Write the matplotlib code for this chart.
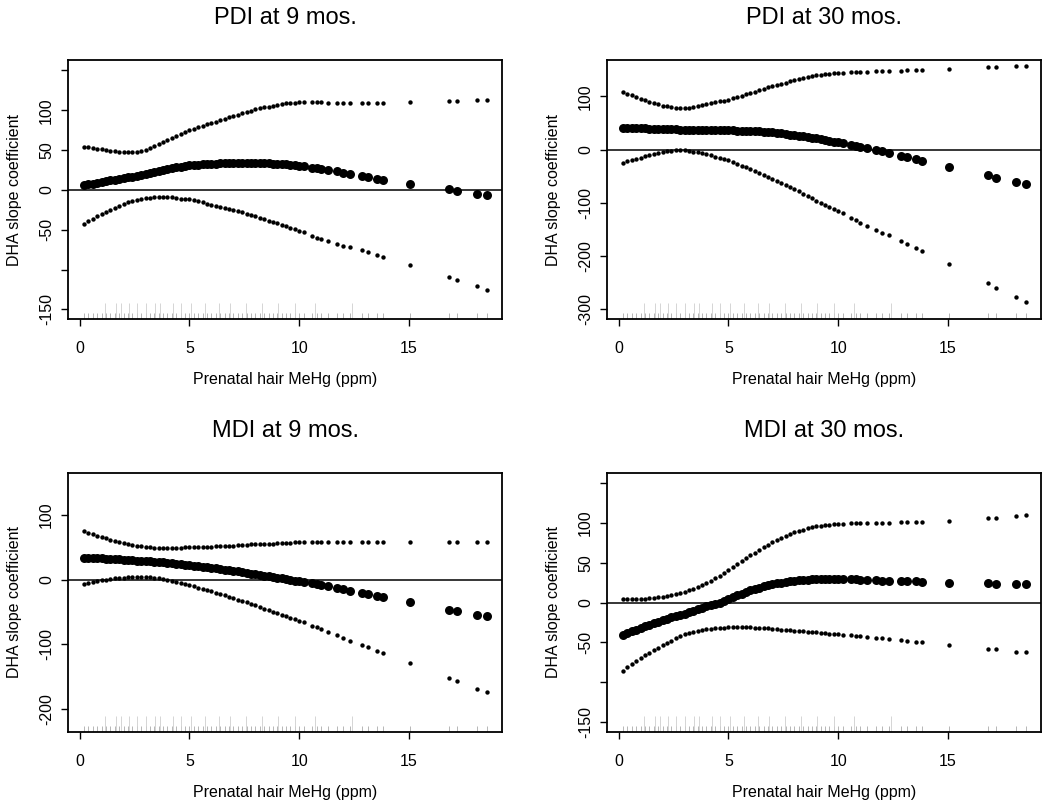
import matplotlib
matplotlib.use("Agg")
import matplotlib.pyplot as plt

plt.rcParams["font.family"] = ["Liberation Sans", "DejaVu Sans"]

# prenatal hair MeHg values (ppm) where the curves are evaluated
mehg = [0.2, 0.4, 0.6, 0.8, 1.0, 1.2, 1.4, 1.6, 1.8, 2.0,
        2.2, 2.4, 2.6, 2.8, 3.0, 3.2, 3.4, 3.6, 3.8, 4.0,
        4.2, 4.4, 4.6, 4.8, 5.0, 5.2, 5.4, 5.6, 5.8, 6.0,
        6.2, 6.4, 6.6, 6.8, 7.0, 7.2, 7.4, 7.6, 7.8, 8.0,
        8.2, 8.4, 8.6, 8.8, 9.0, 9.2, 9.4, 9.6, 9.8, 10.0,
        10.2, 10.6, 10.8, 11.0, 11.3, 11.7, 12.0, 12.3, 12.85, 13.15,
        13.55, 13.8, 15.05, 16.8, 17.2, 18.1, 18.55]

# rug: quantile-like marks (tall, light)
rug_tall = [1.14, 1.64, 1.89, 2.27, 2.61, 3.0, 3.44, 3.64, 4.24, 4.62,
            5.08, 5.71, 6.33, 6.86, 7.58, 8.29, 9.02, 9.82, 10.73, 12.39]

# PDI at 9 mos.
pdi9_upper = [54.0, 53.3, 52.5, 51.7, 51.0, 50.2, 49.4, 48.7, 48.1, 47.7,
              47.5, 47.6, 48.1, 49.0, 50.5, 52.3, 54.5, 57.0, 59.5, 62.0,
              64.6, 67.2, 69.8, 72.4, 75.0, 76.9, 78.7, 80.5, 82.3, 84.0,
              85.8, 87.6, 89.4, 91.2, 93.0, 94.6, 96.2, 97.8, 99.4, 101.0,
              102.3, 103.5, 104.6, 105.8, 107.0, 107.8, 108.5, 109.1, 109.6, 110.0,
              110.3, 110.0, 109.8, 109.7, 109.5, 109.3, 109.1, 109.0, 109.0, 109.0,
              109.0, 109.0, 110.0, 111.0, 111.5, 112.5, 113.0]
pdi9_est = [6.3, 7.1, 8.0, 9.0, 10.3, 11.2, 12.0, 12.9, 13.8, 14.7,
            15.7, 16.7, 17.8, 18.9, 20.0, 21.3, 22.6, 23.9, 25.2, 26.5,
            27.5, 28.4, 29.2, 30.0, 30.7, 31.2, 31.6, 32.0, 32.4, 32.8,
            33.0, 33.2, 33.4, 33.5, 33.6, 33.7, 33.7, 33.7, 33.7, 33.6,
            33.5, 33.3, 33.2, 33.0, 32.8, 32.4, 31.9, 31.3, 30.7, 30.0,
            29.4, 28.0, 27.2, 26.5, 25.2, 23.4, 21.8, 20.3, 17.2, 16.0,
            13.4, 12.6, 7.6, 0.8, -0.8, -5.0, -6.3]
pdi9_lower = [-42.9, -39.6, -36.3, -33.1, -30.0, -27.3, -24.8, -22.3, -19.9, -17.6,
              -15.8, -14.2, -12.8, -11.6, -10.5, -9.6, -8.9, -8.5, -8.4, -8.6,
              -9.2, -10.0, -10.8, -11.4, -12.0, -13.2, -14.5, -15.8, -17.1, -18.5,
              -19.8, -21.1, -22.4, -23.7, -25.0, -26.6, -28.2, -29.8, -31.4, -33.0,
              -34.8, -36.6, -38.4, -40.2, -42.0, -43.8, -45.6, -47.4, -49.2, -51.0,
              -53.2, -57.6, -59.8, -62.0, -64.4, -67.6, -70.0, -72.0, -75.6, -77.7,
              -81.5, -84.0, -94.5, -109.0, -113.4, -121.0, -125.0]

# PDI at 30 mos.
pdi30_upper = [108.0, 104.7, 101.4, 98.2, 95.0, 92.2, 89.6, 87.2, 84.8, 82.6,
               80.8, 79.4, 78.5, 78.0, 78.1, 78.8, 80.0, 81.6, 83.5, 85.4,
               87.0, 88.6, 90.3, 92.0, 93.7, 96.2, 98.6, 101.0, 103.5, 106.0,
               108.6, 111.2, 113.8, 116.4, 119.0, 121.2, 123.4, 125.6, 127.8, 130.0,
               131.8, 133.6, 135.4, 137.2, 139.0, 140.0, 141.0, 142.0, 143.0, 144.0,
               144.4, 145.2, 145.6, 146.0, 146.3, 146.7, 147.0, 147.3, 148.0, 148.3,
               148.7, 149.0, 152.0, 154.0, 154.0, 156.0, 156.0]
pdi30_est = [41.0, 40.8, 40.5, 40.2, 40.0, 39.7, 39.4, 39.1, 38.9, 38.6,
             38.3, 38.0, 37.6, 37.3, 37.0, 36.9, 36.9, 36.8, 36.8, 36.7,
             36.6, 36.4, 36.3, 36.1, 36.0, 35.8, 35.6, 35.3, 35.1, 34.8,
             34.4, 33.9, 33.4, 32.9, 32.3, 31.3, 30.3, 29.2, 28.1, 27.0,
             25.8, 24.6, 23.4, 22.2, 21.0, 19.5, 17.9, 16.4, 14.8, 13.3,
             11.6, 8.3, 6.7, 5.0, 3.1, 0.0, -3.0, -6.0, -11.5, -14.5,
             -18.5, -21.0, -33.0, -48.7, -52.5, -60.0, -64.6]
pdi30_lower = [-25.0, -22.4, -19.9, -17.4, -15.0, -12.7, -10.5, -8.4, -6.3, -4.4,
               -3.0, -2.0, -1.4, -1.3, -1.6, -2.4, -3.7, -5.3, -7.1, -9.0,
               -11.0, -13.2, -15.4, -17.7, -20.0, -23.3, -26.7, -30.1, -33.5, -37.0,
               -40.6, -44.2, -47.8, -51.4, -55.0, -58.8, -62.6, -66.4, -70.2, -74.0,
               -78.4, -82.8, -87.2, -91.6, -96.0, -99.8, -103.6, -107.4, -111.2, -115.0,
               -119.4, -128.2, -132.6, -137.0, -142.7, -150.3, -156.0, -161.0, -171.0, -177.0,
               -185.0, -191.0, -215.0, -251.0, -259.0, -277.0, -286.0]

# MDI at 9 mos.
mdi9_upper = [74.5, 72.3, 70.0, 67.8, 65.6, 63.6, 61.6, 59.7, 57.8, 56.0,
              54.7, 53.5, 52.4, 51.4, 50.5, 50.0, 49.5, 49.2, 49.0, 49.0,
              49.1, 49.3, 49.6, 49.8, 50.0, 50.2, 50.4, 50.6, 50.8, 51.0,
              51.3, 51.6, 52.0, 52.3, 52.6, 53.0, 53.4, 53.9, 54.3, 54.7,
              55.0, 55.2, 55.5, 55.7, 56.0, 56.4, 56.7, 57.1, 57.4, 57.8,
              57.9, 58.1, 58.2, 58.3, 58.3, 58.3, 58.3, 58.3, 58.3, 58.3,
              58.3, 58.3, 58.3, 58.9, 58.9, 58.9, 58.9]
mdi9_est = [33.9, 33.6, 33.3, 33.1, 32.8, 32.4, 32.0, 31.5, 31.1, 30.7,
            30.3, 29.9, 29.4, 29.0, 28.6, 28.1, 27.6, 27.0, 26.5, 26.0,
            25.3, 24.6, 23.8, 23.1, 22.4, 21.6, 20.7, 19.9, 19.0, 18.2,
            17.3, 16.3, 15.4, 14.4, 13.5, 12.5, 11.4, 10.4, 9.3, 8.3,
            7.3, 6.2, 5.2, 4.1, 3.1, 2.0, 0.8, -0.3, -1.5, -2.6,
            -3.7, -6.0, -7.2, -8.3, -10.3, -13.0, -15.0, -17.0, -20.8, -23.0,
            -26.0, -27.6, -35.4, -46.4, -49.0, -54.2, -56.8]
mdi9_lower = [-6.3, -4.8, -3.4, -2.1, -1.0, 0.0, 0.9, 1.7, 2.4, 3.1,
              3.6, 4.0, 4.2, 4.2, 4.0, 3.6, 3.0, 2.1, 0.6, -1.0,
              -2.5, -4.0, -5.6, -7.2, -8.9, -10.7, -12.6, -14.4, -16.3, -18.2,
              -20.3, -22.4, -24.4, -26.5, -28.6, -30.9, -33.2, -35.4, -37.7, -40.0,
              -42.4, -44.8, -47.2, -49.6, -52.0, -54.3, -56.6, -58.9, -61.2, -63.5,
              -66.1, -71.4, -74.0, -76.6, -80.8, -86.4, -90.6, -94.8, -101.0, -105.0,
              -110.0, -114.0, -129.0, -152.0, -157.0, -169.0, -174.5]

# MDI at 30 mos.
mdi30_upper = [4.6, 4.6, 4.6, 4.6, 4.7, 5.0, 5.4, 5.9, 6.4, 7.0,
               8.0, 9.1, 10.4, 11.8, 13.4, 15.4, 17.6, 19.8, 22.2, 24.7,
               27.6, 30.7, 33.9, 37.2, 40.6, 44.4, 48.2, 52.0, 55.7, 59.4,
               62.9, 66.3, 69.6, 72.8, 76.0, 78.8, 81.5, 84.0, 86.4, 88.7,
               90.3, 91.8, 93.2, 94.5, 95.8, 96.5, 97.2, 97.9, 98.5, 99.0,
               99.2, 99.6, 99.8, 100.0, 100.0, 100.0, 100.0, 100.2, 100.8, 101.1,
               101.5, 101.7, 103.0, 106.0, 106.7, 108.8, 109.6]
mdi30_est = [-40.5, -38.4, -36.2, -34.1, -32.0, -30.0, -28.0, -26.0, -24.0, -22.0,
             -20.4, -18.8, -17.2, -15.6, -14.0, -12.2, -10.4, -8.6, -6.8, -5.0,
             -3.4, -1.7, 0.0, 2.2, 4.5, 6.8, 9.0, 11.2, 13.4, 15.5,
             17.1, 18.7, 20.2, 21.6, 23.0, 24.0, 24.9, 25.9, 26.7, 27.5,
             27.9, 28.3, 28.6, 29.0, 29.3, 29.4, 29.5, 29.6, 29.7, 29.7,
             29.6, 29.3, 29.1, 28.9, 28.5, 28.0, 27.6, 27.4, 27.0, 26.8,
             26.6, 26.4, 25.0, 24.3, 23.8, 23.4, 23.0]
mdi30_lower = [-85.8, -81.8, -77.9, -73.9, -70.0, -66.6, -63.3, -60.0, -56.8, -53.6,
               -50.7, -47.9, -45.2, -42.6, -40.0, -38.5, -37.2, -35.9, -34.6, -33.5,
               -32.9, -32.4, -32.0, -31.7, -31.4, -31.3, -31.2, -31.2, -31.3, -31.4,
               -31.7, -32.0, -32.3, -32.7, -33.0, -33.5, -34.0, -34.6, -35.1, -35.6,
               -36.0, -36.4, -36.9, -37.3, -37.7, -38.2, -38.6, -39.1, -39.5, -40.0,
               -40.4, -41.2, -41.6, -42.0, -42.9, -44.1, -45.0, -45.8, -47.3, -48.2,
               -49.3, -50.0, -53.6, -58.0, -59.0, -62.0, -62.8]

# panel settings: title, series, y limits, y ticks, y tick labels, axes corner (pixels)
panels = [
    ("PDI at 9 mos.", pdi9_upper, pdi9_est, pdi9_lower, (-162, 163),
     [-150, -100, -50, 0, 50, 100, 150], ["-150", "", "-50", "0", "50", "100", ""], (68, 60)),
    ("PDI at 30 mos.", pdi30_upper, pdi30_est, pdi30_lower, (-318, 168),
     [-300, -200, -100, 0, 100], ["-300", "-200", "-100", "0", "100"], (607, 60)),
    ("MDI at 9 mos.", mdi9_upper, mdi9_est, mdi9_lower, (-236, 165),
     [-200, -100, 0, 100], ["-200", "-100", "0", "100"], (68, 473)),
    ("MDI at 30 mos.", mdi30_upper, mdi30_est, mdi30_lower, (-163, 163),
     [-150, -100, -50, 0, 50, 100, 150], ["-150", "", "-50", "0", "50", "100", ""], (607, 473)),
]

W, H = 1050, 807
fig = plt.figure(figsize=(W / 100, H / 100), dpi=100)

for title, upper, est, lower, ylim, yt, ytl, (left, top) in panels:
    aw, ah = 434, 259
    ax = fig.add_axes([left / W, (H - top - ah) / H, aw / W, ah / H])

    # rug of exposure values
    ax.vlines(mehg, 0, 0.025, transform=ax.get_xaxis_transform(), color="#ababab", lw=0.6, zorder=1)
    ax.vlines(rug_tall, 0, 0.06, transform=ax.get_xaxis_transform(), color="#cfcfcf", lw=0.6, zorder=1)

    ax.axhline(0, color="black", lw=1.1, zorder=2)
    ax.scatter(mehg, upper, s=10, color="black", lw=0, zorder=3)
    ax.scatter(mehg, lower, s=10, color="black", lw=0, zorder=3)
    ax.scatter(mehg, est, s=42, color="black", lw=0, zorder=4)

    ax.set_xlim(-0.53, 19.23)
    ax.set_ylim(*ylim)
    ax.set_xticks([0, 5, 10, 15])
    ax.set_yticks(yt)
    ax.set_yticklabels(ytl, rotation=90, va="center")
    ax.tick_params(axis="both", direction="out", length=5, width=1.0, labelsize=11.5, colors="black")
    ax.tick_params(axis="x", pad=11)
    ax.tick_params(axis="y", pad=5)
    for sp in ax.spines.values():
        sp.set_linewidth(1.3)

    ax.set_title(title, fontsize=17, pad=26)
    ax.set_xlabel("Prenatal hair MeHg (ppm)", fontsize=11.5)
    ax.set_ylabel("DHA slope coefficient", fontsize=11.5)
    ax.xaxis.set_label_coords(0.5, -0.205)
    ax.yaxis.set_label_coords(-0.107, 0.5)

fig.savefig("out.png", dpi=100)
